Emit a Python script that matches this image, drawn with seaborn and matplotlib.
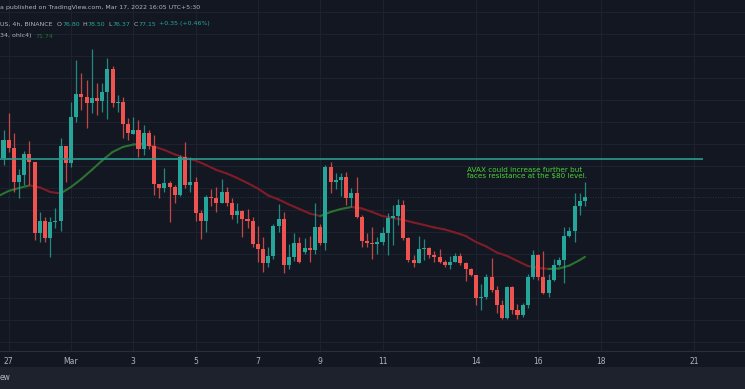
import matplotlib
matplotlib.use("Agg")
import matplotlib.pyplot as plt
import matplotlib.dates as mdates
import numpy as np
import pandas as pd
import seaborn as sns

# AVAX / USD, Binance, 4h candles (Feb 26 16:00 -> Mar 17 12:00)
opens = [78.91, 80.73, 82.36, 81.64, 78.54, 79.18, 81.09, 80.36, 73.91, 75.00,
         73.45, 74.91, 75.00, 81.82, 80.27, 84.45, 86.55, 86.27, 85.73, 86.18,
         85.91, 86.73, 88.82, 85.73, 85.82, 83.82, 82.91, 83.27, 81.55, 83.00,
         81.82, 78.36, 78.00, 78.45, 78.09, 77.36, 80.82, 78.27, 78.54, 75.73,
         75.00, 77.18, 77.09, 76.64, 77.64, 76.64, 75.55, 75.91, 75.18, 75.00,
         72.91, 72.45, 71.18, 71.82, 74.55, 75.18, 71.00, 71.73, 73.00, 72.18,
         72.55, 72.36, 74.45, 73.00, 79.91, 78.54, 78.73, 79.00, 77.09, 77.55,
         75.36, 73.18, 73.00, 72.91, 73.09, 73.91, 75.27, 75.45, 76.45, 73.45,
         71.45, 71.18, 72.45, 72.55, 71.91, 71.73, 71.27, 71.00, 71.27, 71.82,
         71.18, 70.64, 70.09, 68.00, 68.09, 69.91, 68.73, 67.36, 66.18, 69.00,
         66.91, 66.45, 67.36, 69.91, 71.91, 69.91, 68.45, 69.64, 71.00, 71.45,
         73.64, 74.09, 76.36, 76.80]
highs = [81.00, 83.27, 84.82, 83.00, 79.73, 81.36, 82.27, 80.36, 75.82, 75.36,
         75.36, 76.18, 82.55, 81.82, 85.82, 89.64, 88.45, 87.82, 90.64, 87.55,
         87.55, 89.82, 89.09, 86.45, 86.27, 84.36, 84.45, 84.18, 83.73, 83.27,
         82.82, 78.36, 79.82, 78.64, 78.27, 81.00, 82.18, 80.82, 79.00, 76.00,
         77.36, 77.91, 78.09, 78.82, 78.09, 77.09, 76.64, 76.00, 76.09, 75.36,
         74.55, 73.55, 72.64, 74.73, 76.55, 75.82, 72.91, 73.91, 73.55, 73.45,
         73.64, 76.64, 74.73, 80.09, 80.36, 79.36, 79.36, 79.45, 78.00, 79.00,
         75.55, 73.91, 74.45, 73.55, 74.45, 75.73, 76.45, 77.00, 76.91, 73.55,
         71.91, 73.64, 73.36, 72.64, 72.27, 72.45, 71.45, 71.82, 72.09, 72.09,
         71.27, 70.73, 70.09, 69.27, 70.18, 71.64, 69.09, 67.82, 69.09, 69.09,
         67.45, 67.54, 70.18, 72.36, 72.00, 72.27, 70.18, 71.55, 71.73, 74.45,
         74.45, 77.55, 77.55, 78.50]
lows = [78.54, 80.09, 81.27, 77.64, 77.09, 78.27, 78.27, 73.27, 73.09, 73.09,
        71.73, 74.36, 74.09, 78.54, 79.91, 84.00, 85.09, 83.45, 84.82, 84.64,
        84.91, 84.27, 85.36, 84.91, 82.55, 82.36, 82.91, 80.82, 81.00, 81.55,
        77.36, 77.09, 77.64, 74.91, 76.64, 77.27, 78.00, 77.64, 75.00, 73.36,
        74.00, 76.36, 75.82, 76.64, 76.36, 75.18, 74.82, 73.55, 74.36, 72.64,
        71.27, 70.36, 70.82, 71.55, 74.00, 70.27, 70.64, 71.36, 71.18, 72.00,
        71.27, 72.00, 72.82, 72.36, 77.55, 77.91, 77.27, 76.45, 76.27, 75.27,
        72.64, 72.64, 71.55, 72.00, 72.82, 71.91, 72.82, 74.64, 73.27, 71.27,
        70.82, 71.18, 71.45, 71.64, 71.27, 71.18, 70.82, 70.64, 71.27, 71.00,
        69.55, 70.00, 67.36, 66.91, 67.91, 68.54, 66.64, 66.09, 66.09, 66.54,
        66.09, 66.27, 67.09, 69.73, 69.64, 68.36, 68.09, 69.55, 70.91, 69.36,
        73.55, 73.09, 75.55, 76.37]
closes = [80.73, 82.36, 81.64, 78.54, 79.18, 81.09, 80.36, 73.91, 75.00, 73.45,
          74.91, 75.00, 81.82, 80.27, 84.45, 86.55, 86.27, 85.73, 86.18, 85.91,
          86.73, 88.82, 85.73, 85.82, 83.82, 83.00, 83.27, 81.55, 83.00, 81.82,
          78.36, 78.00, 78.45, 78.09, 77.36, 80.82, 78.27, 78.54, 75.73, 75.00,
          77.18, 77.09, 76.64, 77.64, 76.64, 75.55, 75.91, 75.18, 75.00, 72.91,
          72.45, 71.18, 71.82, 74.55, 75.18, 71.00, 71.73, 73.00, 71.27, 72.55,
          72.36, 74.45, 73.00, 79.91, 78.54, 78.73, 79.00, 77.09, 77.55, 75.36,
          73.18, 73.00, 72.91, 73.09, 73.91, 75.27, 75.45, 76.45, 73.45, 71.45,
          71.18, 72.45, 72.55, 71.91, 71.73, 71.27, 71.00, 71.27, 71.82, 71.18,
          70.64, 70.09, 68.00, 68.09, 69.91, 68.73, 67.36, 66.18, 69.00, 66.91,
          66.45, 67.36, 69.91, 71.91, 69.91, 68.45, 69.64, 71.00, 71.45, 73.64,
          74.09, 76.36, 76.82, 77.15]

# moving average (34, ohlc4), read every second candle + last candle
ma_values = [77.27, 77.73, 78.00, 78.23, 78.05, 77.64, 77.50, 78.09, 78.82, 79.64,
             80.50, 81.27, 81.73, 81.95, 82.00, 81.77, 81.45, 81.05, 80.73, 80.50,
             80.09, 79.64, 79.32, 78.91, 78.45, 77.95, 77.32, 76.95, 76.50, 76.09,
             75.68, 75.45, 75.82, 76.09, 76.27, 76.14, 75.82, 75.45, 75.27, 75.09,
             74.86, 74.64, 74.41, 74.23, 73.95, 73.64, 73.09, 72.68, 72.14, 71.82,
             71.36, 70.91, 70.73, 70.64, 70.68, 70.95, 71.45, 71.74]

resistance = 80.62
resistance_end = "2022-03-21 07:00"

tick_dates = ["2022-02-27", "2022-03-01", "2022-03-03", "2022-03-05", "2022-03-07",
              "2022-03-09", "2022-03-11", "2022-03-14", "2022-03-16", "2022-03-18",
              "2022-03-21"]
tick_labels = ["27", "Mar", "3", "5", "7", "9", "11", "14", "16", "18", "21"]

note = "AVAX could increase further but\nfaces resistance at the \\$80 level."

# colours
BG = "#131722"
UP = "#26a69a"
DOWN = "#ef5350"
GRID = "#1e2230"
TXT = "#b2b5be"

sns.set_theme(style="dark")
plt.rcParams["font.family"] = ["DejaVu Sans"]

W, H = 745, 389
fig = plt.figure(figsize=(W / 100, H / 100), dpi=100, facecolor=BG)
ax = fig.add_axes([0, 38 / H, 1, 351 / H])
ax.set_facecolor(BG)

df = pd.DataFrame({"time": pd.date_range("2022-02-26 16:00", periods=len(opens), freq="4h"),
                   "open": opens, "high": highs, "low": lows, "close": closes})
df["x"] = mdates.date2num(df["time"])
df["up"] = df["close"] >= df["open"]
col = np.where(df["up"], UP, DOWN)

# candles
ax.vlines(df["x"], df["low"], df["high"], colors=col, linewidth=0.9, alpha=0.8, zorder=3)
body = np.maximum((df["close"] - df["open"]).abs(), 0.07)
ax.bar(df["x"], body, bottom=np.minimum(df["open"], df["close"]), width=0.13,
       color=col, linewidth=0, zorder=4)

# moving average, green when rising, red when falling
ma_idx = list(range(0, len(opens), 2)) + [len(opens) - 1]
ma = pd.DataFrame({"x": df["x"].iloc[ma_idx].values, "ma": ma_values})
for i in range(len(ma) - 1):
    seg = ma.iloc[i:i + 2]
    c = "#2b7230" if seg["ma"].iloc[1] >= seg["ma"].iloc[0] else "#7f1d27"
    sns.lineplot(data=seg, x="x", y="ma", ax=ax, color=c, linewidth=1.5,
                 solid_capstyle="round", zorder=2)

# resistance line and last price line
x0 = mdates.date2num(pd.Timestamp("2022-03-01")) - 71 / 31.15
x1 = mdates.date2num(pd.Timestamp("2022-03-01")) + (W - 71) / 31.15
ax.hlines(resistance, x0, mdates.date2num(pd.Timestamp(resistance_end)),
          color="#2a9d8f", linewidth=1.2, zorder=5)
ax.axhline(closes[-1], color=UP, linestyle=(0, (1, 2)), linewidth=0.6, alpha=0.35, zorder=1)

ax.text(mdates.date2num(pd.Timestamp("2022-03-13 17:00")), 79.95, note, color="#4cd137",
        fontsize=5.2, va="top", ha="left", linespacing=1.0, zorder=6)

ax.set_xlim(x0, x1)
ax.set_ylim(95.09 - 351 / 11, 95.09)
ax.set_yticks(np.arange(64, 96, 2))
ax.set_xticks(mdates.date2num(pd.to_datetime(tick_dates)))
ax.set_xticklabels(tick_labels)
ax.tick_params(axis="x", colors=TXT, labelsize=5.5, length=0, pad=4)
ax.tick_params(axis="y", left=False, labelleft=False)
ax.grid(True, color=GRID, linewidth=0.8)
ax.set_xlabel("")
ax.set_ylabel("")
for s in ["top", "left", "right"]:
    ax.spines[s].set_visible(False)
ax.spines["bottom"].set_color("#2a2e39")
ax.spines["bottom"].set_linewidth(0.8)

# bottom strip
fig.patches.append(plt.Rectangle((0, 0), 1, 22 / H, transform=fig.transFigure,
                                 facecolor="#1e222d", edgecolor="none", zorder=0))
fig.text(0, 1 - 378 / H, "ew", color=TXT, fontsize=5.5, va="center", ha="left")


def fy(y):
    return 1 - y / H


renderer = fig.canvas.get_renderer()


def text_row(y, parts, x=0):
    # lay out coloured pieces one after another
    for s, c, gap in parts:
        t = fig.text(x / W, fy(y), s, color=c, fontsize=4.5, va="center")
        x += t.get_window_extent(renderer).width + gap


# header texts
text_row(7, [("a published on TradingView.com, Mar 17, 2022 16:05 UTC+5:30", TXT, 0)])
text_row(24, [("US, 4h, BINANCE", TXT, 4),
              ("O", TXT, 0.5), ("76.80", UP, 3),
              ("H", TXT, 0.5), ("78.50", UP, 3),
              ("L", TXT, 0.5), ("76.37", UP, 3),
              ("C", TXT, 0.5), ("77.15", UP, 3),
              ("+0.35 (+0.46%)", UP, 0)])
text_row(36, [("34, ohlc4)", TXT, 4), ("71.74", "#2b7230", 0)])

fig.savefig("out.png", dpi=100, facecolor=BG)
